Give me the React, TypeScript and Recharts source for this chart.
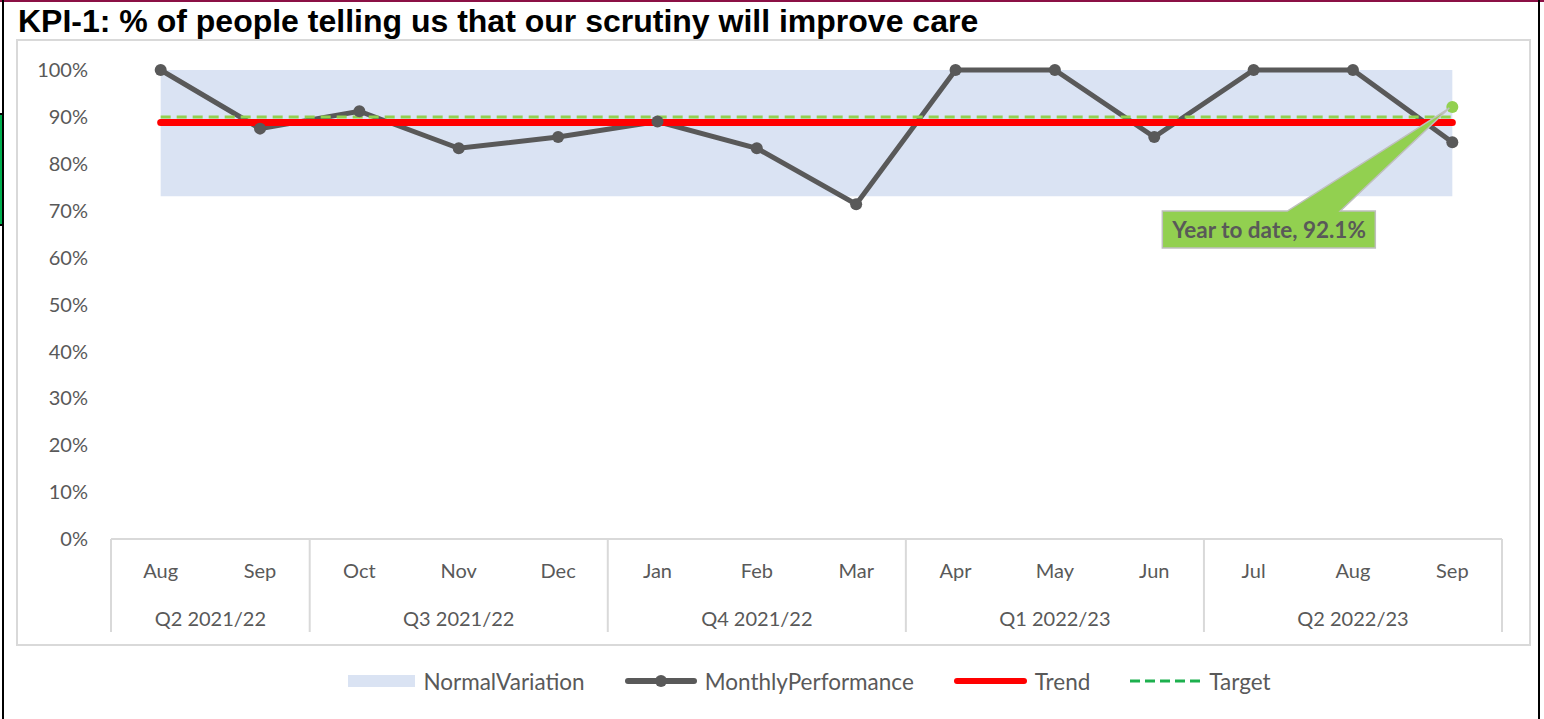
import React from 'react';
import { ComposedChart, Area, Line, XAxis, YAxis, Legend, LabelList } from 'recharts';

const FONT = 'Lato, "Open Sans", sans-serif';
const TEXT_GREY = '#595959';
const GRID_GREY = '#D9D9D9';

const CHART_W = 1544;
const CHART_H = 719;
const MARGIN = { top: 70, right: 42, bottom: 23, left: 21 };
const Y_AXIS_W = 90;

const titleText = 'KPI-1: % of people telling us that our scrutiny will improve care';
const months = ['Aug', 'Sep', 'Oct', 'Nov', 'Dec', 'Jan', 'Feb', 'Mar', 'Apr', 'May', 'Jun', 'Jul', 'Aug', 'Sep'];
const quarters = [
  'Q2 2021/22', 'Q2 2021/22',
  'Q3 2021/22', 'Q3 2021/22', 'Q3 2021/22',
  'Q4 2021/22', 'Q4 2021/22', 'Q4 2021/22',
  'Q1 2022/23', 'Q1 2022/23', 'Q1 2022/23',
  'Q2 2022/23', 'Q2 2022/23', 'Q2 2022/23',
];
const monthlyPerformance = [100, 87.5, 91.2, 83.3, 85.7, 89.0, 83.3, 71.4, 100, 100, 85.7, 100, 100, 84.6];
const normalLower = [73.1, 73.1, 73.1, 73.1, 73.1, 73.1, 73.1, 73.1, 73.1, 73.1, 73.1, 73.1, 73.1, 73.1];
const normalUpper = [100, 100, 100, 100, 100, 100, 100, 100, 100, 100, 100, 100, 100, 100];
const trendValues = [88.8, 88.8, 88.8, 88.8, 88.8, 88.8, 88.8, 88.8, 88.8, 88.8, 88.8, 88.8, 88.8, 88.8];
const targetValues = [90, 90, 90, 90, 90, 90, 90, 90, 90, 90, 90, 90, 90, 90];
const yearToDate: (number | null)[] = [null, null, null, null, null, null, null, null, null, null, null, null, null, 92.1];
const yTicks = [0, 10, 20, 30, 40, 50, 60, 70, 80, 90, 100];
const legendLabels = ['NormalVariation', 'MonthlyPerformance', 'Trend', 'Target'];
const ytdLabel = 'Year to date';

const PLOT_W = CHART_W - MARGIN.left - MARGIN.right - Y_AXIS_W;
const HALF_BAND = PLOT_W / months.length / 2;

const data = months.map((month, i) => ({
  idx: i,
  month,
  quarter: quarters[i],
  normal: [normalLower[i], normalUpper[i]],
  performance: monthlyPerformance[i],
  trend: trendValues[i],
  target: targetValues[i],
  ytd: yearToDate[i],
}));

function XTick(props: any) {
  const { x, y, payload } = props;
  const i: number = Number(payload.value);
  const half = HALF_BAND;
  const q = quarters[i];
  const isStart = i === 0 || quarters[i - 1] !== q;
  const isLast = i === months.length - 1;
  let count = 0;
  if (isStart) {
    let j = i;
    while (j < quarters.length && quarters[j] === q) {
      count++;
      j++;
    }
  }
  return (
    <g>
      <text x={x} y={y + 31} textAnchor="middle" dominantBaseline="central" fill={TEXT_GREY} fontSize={20} fontFamily={FONT}>
        {months[i]}
      </text>
      {isStart && <line x1={x - half} x2={x - half} y1={y} y2={y + 93} stroke={GRID_GREY} strokeWidth={2} />}
      {isStart && (
        <text x={x - half + count * half} y={y + 79} textAnchor="middle" dominantBaseline="central" fill={TEXT_GREY} fontSize={20} fontFamily={FONT}>
          {q}
        </text>
      )}
      {isLast && <line x1={x + half} x2={x + half} y1={y} y2={y + 93} stroke={GRID_GREY} strokeWidth={2} />}
    </g>
  );
}

function CalloutLabel(props: any) {
  const { x, y, value } = props;
  if (value == null || typeof x !== 'number' || typeof y !== 'number') return null;
  const left = x - 290;
  const right = x - 77;
  const top = y + 104;
  const bottom = y + 141;
  const b1 = x - 165;
  const b2 = x - 112;
  const d = `M${left},${top} L${b1},${top} L${x - 3},${y + 1} L${b2},${top} L${right},${top} L${right},${bottom} L${left},${bottom} Z`;
  return (
    <g>
      <path d={d} fill="#92D050" stroke="#BFBFBF" strokeWidth={1.5} />
      <text x={left + 10} y={top + 27} fill={TEXT_GREY} fontSize={22.5} fontWeight={700} fontFamily={FONT}>
        {`${ytdLabel}, ${value}%`}
      </text>
    </g>
  );
}

function LegendContent() {
  const item = (icon: React.ReactNode, label: string, gap: number) => (
    <div key={label} style={{ display: 'flex', alignItems: 'center', marginRight: gap }}>
      {icon}
      <span style={{ marginLeft: 8 }}>{label}</span>
    </div>
  );
  return (
    <div style={{ display: 'flex', justifyContent: 'center', alignItems: 'center', height: 30, paddingLeft: 6, boxSizing: 'border-box', fontFamily: FONT, fontSize: 22.5, color: TEXT_GREY }}>
      {item(
        <svg width={67} height={14}><rect x={0} y={1} width={67} height={12} fill="#DAE3F3" /></svg>,
        legendLabels[0], 40,
      )}
      {item(
        <svg width={72} height={16}>
          <line x1={3} x2={69} y1={8} y2={8} stroke={TEXT_GREY} strokeWidth={6} strokeLinecap="round" />
          <circle cx={36} cy={8} r={6} fill={TEXT_GREY} />
        </svg>,
        legendLabels[1], 40,
      )}
      {item(
        <svg width={73} height={16}>
          <line x1={3} x2={70} y1={8} y2={8} stroke="#FF0000" strokeWidth={6} strokeLinecap="round" />
        </svg>,
        legendLabels[2], 40,
      )}
      {item(
        <svg width={71} height={16}>
          <line x1={0} x2={71} y1={8} y2={8} stroke="#1DB04E" strokeWidth={3} strokeDasharray="10 5" />
        </svg>,
        legendLabels[3], 0,
      )}
    </div>
  );
}

export default function App() {
  return (
    <div style={{ position: 'absolute', left: 0, top: 0, width: CHART_W, height: CHART_H, background: '#fff', overflow: 'hidden' }}>
      <svg width={CHART_W} height={CHART_H} style={{ position: 'absolute', left: 0, top: 0 }}>
        <rect x={0} y={0} width={CHART_W} height={2} fill="#8B1045" />
        <rect x={2} y={0} width={2} height={CHART_H} fill="#000" />
        <rect x={1538} y={0} width={2} height={CHART_H} fill="#000" />
        <rect x={0} y={114} width={2} height={111} fill="#00B050" />
        <rect x={0} y={113} width={3} height={2} fill="#000" />
        <rect x={0} y={224} width={3} height={2} fill="#000" />
        <rect x={17} y={40} width={1513} height={605} fill="none" stroke={GRID_GREY} strokeWidth={2} />
        <text x={18} y={32} fontFamily='"Liberation Sans", Arial, sans-serif' fontWeight={700} fontSize={32} fill="#000">
          {titleText}
        </text>
      </svg>
      <div style={{ position: 'absolute', left: 0, top: 0 }}>
        <ComposedChart width={CHART_W} height={CHART_H} data={data} margin={MARGIN}>
          <XAxis
            dataKey="idx"
            type="category"
            interval={0}
            height={127}
            padding={{ left: HALF_BAND, right: HALF_BAND }}
            tickSize={0}
            tickMargin={0}
            tickLine={false}
            axisLine={{ stroke: GRID_GREY, strokeWidth: 2 }}
            tick={<XTick />}
          />
          <YAxis
            domain={[0, 100]}
            ticks={yTicks}
            width={Y_AXIS_W}
            tickSize={0}
            tickMargin={23}
            axisLine={false}
            tickLine={false}
            tickFormatter={(v: number) => `${v}%`}
            tick={{ fill: TEXT_GREY, fontSize: 20, fontFamily: FONT }}
          />
          <Legend verticalAlign="bottom" height={30} content={<LegendContent />} wrapperStyle={{ left: 111, width: PLOT_W }} />
          <Area dataKey="normal" type="linear" stroke="none" fill="#DAE3F3" fillOpacity={1} isAnimationActive={false} activeDot={false} dot={false} />
          <Line dataKey="performance" type="linear" stroke={TEXT_GREY} strokeWidth={5} dot={{ r: 6, fill: TEXT_GREY, stroke: TEXT_GREY, strokeWidth: 0 }} activeDot={false} isAnimationActive={false} />
          <Line dataKey="trend" type="linear" stroke="#FF0000" strokeWidth={7} strokeLinecap="round" dot={false} activeDot={false} isAnimationActive={false} />
          <Line dataKey="target" type="linear" stroke="#92D050" strokeWidth={3} strokeDasharray="10 6" dot={false} activeDot={false} isAnimationActive={false} />
          <Line dataKey="ytd" type="linear" stroke="none" dot={{ r: 6, fill: '#92D050', stroke: '#92D050', strokeWidth: 0 }} activeDot={false} isAnimationActive={false}>
            <LabelList dataKey="ytd" content={<CalloutLabel />} />
          </Line>
        </ComposedChart>
      </div>
    </div>
  );
}
